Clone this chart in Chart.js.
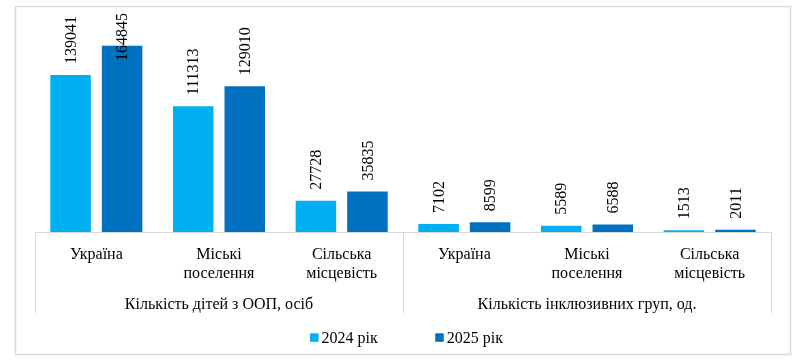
<!DOCTYPE html>
<html>
<head>
<meta charset="utf-8">
<script src="https://cdn.jsdelivr.net/npm/chart.js@4/dist/chart.umd.min.js"></script>
<style>
  html, body { margin: 0; padding: 0; background: #ffffff; }
  #c { display: block; }
</style>
</head>
<body>
<canvas id="c" width="805" height="363"></canvas>
<script>
// ---- data ----
const categories = [
  ["Україна"], ["Міські", "поселення"], ["Сільська", "місцевість"],
  ["Україна"], ["Міські", "поселення"], ["Сільська", "місцевість"]
];
const groupLabels = ["Кількість дітей з ООП, осіб", "Кількість інклюзивних груп, од."];
const groupSizes = [3, 3];
const seriesNames = ["2024 рік", "2025 рік"];
const values2024 = [139041, 111313, 27728, 7102, 5589, 1513];
const values2025 = [164845, 129010, 35835, 8599, 6588, 2011];
const colors = ["#00B0F0", "#0070C0"];

const FONT = '"Liberation Serif", "Times New Roman", serif';
const GRID = '#d9d9d9';

const decorPlugin = {
  id: 'decor',
  beforeDraw(chart) {
    const ctx = chart.ctx;
    ctx.save();
    ctx.fillStyle = '#ffffff';
    ctx.fillRect(0, 0, chart.width, chart.height);
    ctx.strokeStyle = GRID;
    ctx.lineWidth = 1.5;
    ctx.strokeRect(15.5, 6.5, 775, 348);
    ctx.restore();
  },
  afterDatasetsDraw(chart) {
    const ctx = chart.ctx;
    const area = chart.chartArea;
    const xs = chart.scales.x;
    ctx.save();
    // axis line
    ctx.strokeStyle = GRID;
    ctx.lineWidth = 1;
    ctx.beginPath();
    ctx.moveTo(area.left, area.bottom + 0.5);
    ctx.lineTo(area.right, area.bottom + 0.5);
    ctx.stroke();
    // group separators
    const catW = (area.right - area.left) / categories.length;
    let idx = 0;
    const seps = [area.left];
    groupSizes.forEach(n => { idx += n; seps.push(area.left + idx * catW); });
    ctx.beginPath();
    seps.forEach(x => {
      const px = Math.round(x) + 0.5;
      ctx.moveTo(px, area.bottom);
      ctx.lineTo(px, area.bottom + 81);
    });
    ctx.stroke();

    // category labels
    ctx.fillStyle = '#000000';
    ctx.font = '16px ' + FONT;
    ctx.textAlign = 'center';
    ctx.textBaseline = 'alphabetic';
    categories.forEach((lines, i) => {
      const x = xs.getPixelForValue(i);
      lines.forEach((t, j) => {
        ctx.fillText(t, x, area.bottom + 27 + j * 19);
      });
    });
    // group labels
    let start = 0;
    groupLabels.forEach((g, k) => {
      const x0 = xs.getPixelForValue(start) - catW / 2;
      const x1 = xs.getPixelForValue(start + groupSizes[k] - 1) + catW / 2;
      ctx.fillText(g, (x0 + x1) / 2, area.bottom + 77);
      start += groupSizes[k];
    });

    // data labels (rotated)
    ctx.font = '16px ' + FONT;
    ctx.textAlign = 'left';
    ctx.textBaseline = 'middle';
    chart.data.datasets.forEach((ds, di) => {
      const meta = chart.getDatasetMeta(di);
      meta.data.forEach((bar, i) => {
        const txt = String(ds.data[i]);
        const w = ctx.measureText(txt).width;
        let y = bar.y - 11;
        if (y - w < 13) y = 13 + w;
        ctx.save();
        ctx.translate(bar.x + 1, y);
        ctx.rotate(-Math.PI / 2);
        ctx.fillText(txt, 0, 0);
        ctx.restore();
      });
    });

    // legend
    ctx.font = '16px ' + FONT;
    ctx.textBaseline = 'alphabetic';
    ctx.textAlign = 'left';
    const box = 8.5, gap = 3, spacing = 57.5;
    const widths = seriesNames.map(s => box + gap + ctx.measureText(s).width);
    const total = widths.reduce((a, b) => a + b, 0) + spacing * (seriesNames.length - 1);
    let lx = 406.5 - total / 2;
    seriesNames.forEach((s, k) => {
      ctx.fillStyle = colors[k];
      ctx.fillRect(lx, 333.3, box, box);
      ctx.fillStyle = '#000000';
      ctx.fillText(s, lx + box + gap, 342.7);
      lx += widths[k] + spacing;
    });
    ctx.restore();
  }
};

new Chart(document.getElementById('c'), {
  type: 'bar',
  data: {
    labels: categories.map(c => c.join(' ')),
    datasets: [
      { label: seriesNames[0], data: values2024, backgroundColor: colors[0] },
      { label: seriesNames[1], data: values2025, backgroundColor: colors[1] }
    ]
  },
  options: {
    responsive: false,
    animation: false,
    devicePixelRatio: 1,
    layout: { padding: { left: 35, right: 34, top: 6, bottom: 131 } },
    datasets: { bar: { categoryPercentage: 0.84, barPercentage: 0.786 } },
    scales: {
      x: { display: false },
      y: { display: false, min: 0, max: 200000 }
    },
    plugins: {
      legend: { display: false },
      tooltip: { enabled: false }
    }
  },
  plugins: [decorPlugin]
});
</script>
</body>
</html>
